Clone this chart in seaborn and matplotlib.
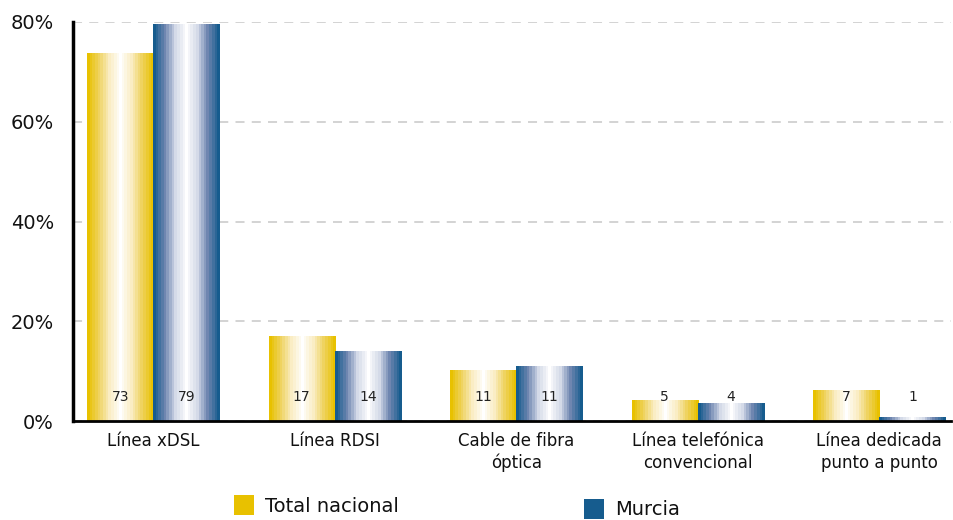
import matplotlib
matplotlib.use("Agg")
import matplotlib.pyplot as plt
import seaborn as sns
import pandas as pd
import numpy as np
from matplotlib.colors import LinearSegmentedColormap
from matplotlib.patches import Patch

# datos
categorias = ["Línea xDSL", "Línea RDSI", "Cable de fibra\nóptica",
              "Línea telefónica\nconvencional", "Línea dedicada\npunto a punto"]
series = ["Total nacional", "Murcia"]
total_nacional = [73.7, 17.0, 10.2, 4.2, 6.2]
murcia = [79.6, 14.0, 11.0, 3.6, 0.8]
etiquetas_total = [73, 17, 11, 5, 7]
etiquetas_murcia = [79, 14, 11, 4, 1]
ticks_y = [0, 20, 40, 60, 80]

colores = {"Total nacional": "#E8C100", "Murcia": "#165C8E"}
# tonos intermedios del degradado
medios = {"Total nacional": ["#EFD360", "#FAEDC4"],
          "Murcia": ["#6F86B0", "#D4DAE8"]}

df = pd.DataFrame({
    "Categoria": categorias * 2,
    "Serie": [series[0]] * 5 + [series[1]] * 5,
    "Valor": total_nacional + murcia,
    "Etiqueta": etiquetas_total + etiquetas_murcia,
})

sns.set_style("white")
plt.rcParams["font.family"] = ["DejaVu Sans"]

fig = plt.figure(figsize=(9.54, 5.2), dpi=100)
ax = fig.add_axes([0.077, 0.19, 0.92, 0.768])

sns.barplot(data=df, x="Categoria", y="Valor", hue="Serie", palette=colores,
            width=0.73, dodge=True, legend=False, ax=ax, saturation=1)


def degradado(serie):
    c = colores[serie]
    m1, m2 = medios[serie]
    return LinearSegmentedColormap.from_list(
        "g", [c, m1, m2, "white", m2, m1, c], N=25)


bars = [p for p in ax.patches]
n = len(categorias)
for i, p in enumerate(bars):
    serie = series[i // n]
    x0, y0 = p.get_x(), p.get_y()
    w, h = p.get_width(), p.get_height()
    grad = np.linspace(0, 1, 256).reshape(1, -1)
    im = ax.imshow(grad, extent=[x0, x0 + w, y0, y0 + h], aspect="auto",
                   cmap=degradado(serie), zorder=2, interpolation="nearest")
    im.set_clip_path(p)
    p.set_facecolor("none")
    p.set_edgecolor("none")

# etiquetas de valor
for i, p in enumerate(bars):
    lab = df["Etiqueta"].iloc[i]
    ax.text(p.get_x() + p.get_width() / 2, 4.8, str(lab), ha="center",
            va="center", fontsize=10, color="#222222", zorder=5)

ax.set_xlim(-0.44, 4.396)
ax.set_ylim(0, 80)
ax.set_yticks(ticks_y)
ax.set_yticklabels([f"{t}%" for t in ticks_y], fontsize=14, color="#111111")
ax.set_xticks(range(len(categorias)))
ax.set_xticklabels(categorias, fontsize=12, linespacing=1.25, color="#111111")
ax.tick_params(axis="x", pad=8, length=0)
ax.tick_params(axis="y", length=0, pad=14)
ax.set_xlabel("")
ax.set_ylabel("")

ax.yaxis.grid(True, linestyle=(0, (5, 4)), color="#d0d0d0", linewidth=1.3)
ax.set_axisbelow(True)
for s in ["top", "right"]:
    ax.spines[s].set_visible(False)
ax.spines["left"].set_linewidth(2.5)
ax.spines["bottom"].set_linewidth(2)
ax.spines["left"].set_color("black")
ax.spines["bottom"].set_color("black")

# leyenda (dos entradas a alturas algo distintas, como en el original)
pos_leyenda = [(234 / 954, 1 - 505.5 / 520), (584 / 954, 1 - 509 / 520)]
for s, pos in zip(series, pos_leyenda):
    leg = fig.legend([Patch(facecolor=colores[s], edgecolor="none")], [s],
                     loc="center left", bbox_to_anchor=pos, frameon=False,
                     fontsize=14, handlelength=1.05, handleheight=1.2,
                     handletextpad=0.55, borderpad=0, borderaxespad=0)
    for t in leg.get_texts():
        t.set_color("#111111")

fig.savefig("out.png", dpi=100)
